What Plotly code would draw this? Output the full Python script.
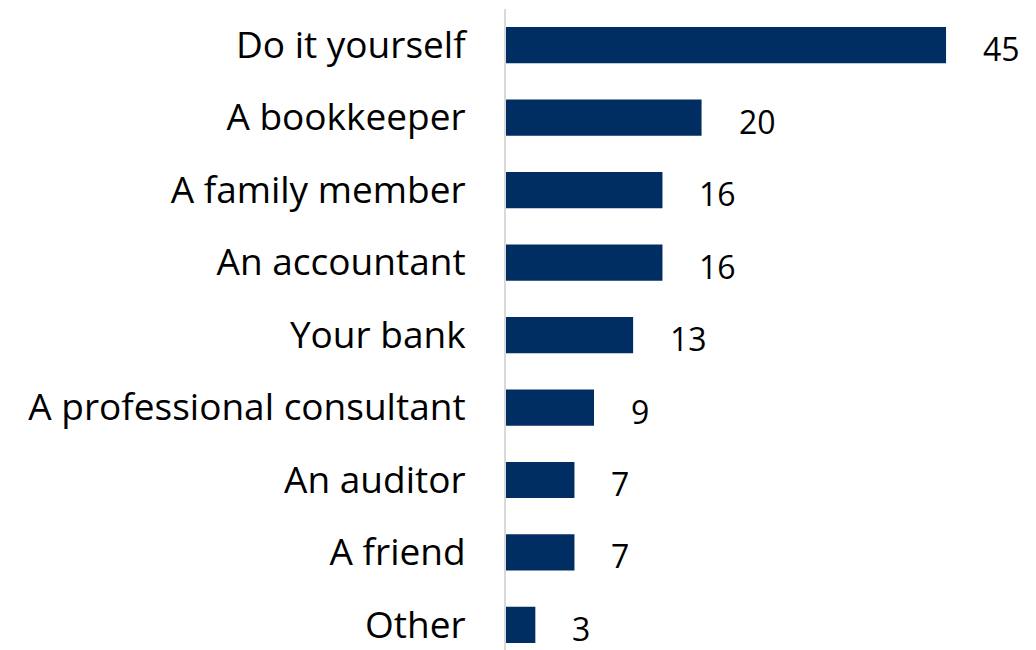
import plotly.graph_objects as go

categories = [
    "Do it yourself",
    "A bookkeeper",
    "A family member",
    "An accountant",
    "Your bank",
    "A professional consultant",
    "An auditor",
    "A friend",
    "Other",
]
values = [45, 20, 16, 16, 13, 9, 7, 7, 3]

BAR_COLOR = "#002D62"
FONT = "'Open Sans', Lato, sans-serif"

fig = go.Figure(
    go.Bar(
        x=values,
        y=categories,
        orientation="h",
        marker=dict(color=BAR_COLOR, line=dict(width=0)),
        width=0.5,
        hoverinfo="skip",
    )
)

# value labels to the right of each bar
for cat, val in zip(categories, values):
    fig.add_annotation(
        x=val, y=cat, text=str(val), showarrow=False,
        xanchor="left", yanchor="middle", xshift=36, yshift=-3,
        height=34, valign="middle", borderpad=0,
        font=dict(family=FONT, size=32, color="#000000"),
    )

fig.update_layout(
    width=1036, height=650,
    margin=dict(l=506, r=0, t=9, b=0),
    paper_bgcolor="white", plot_bgcolor="white",
    showlegend=False,
    font=dict(family=FONT, size=32, color="#000000"),
    xaxis=dict(range=[0, 54.2], visible=False, fixedrange=True),
    yaxis=dict(
        type="category",
        range=[8.345, -0.497],
        showgrid=False, zeroline=False,
        showline=True, linecolor="#D9D9D9", linewidth=2,
        ticks="", ticklabelstandoff=31,
        tickfont=dict(family=FONT, size=37, color="#000000"),
    ),
)

fig.write_html("out.html")
